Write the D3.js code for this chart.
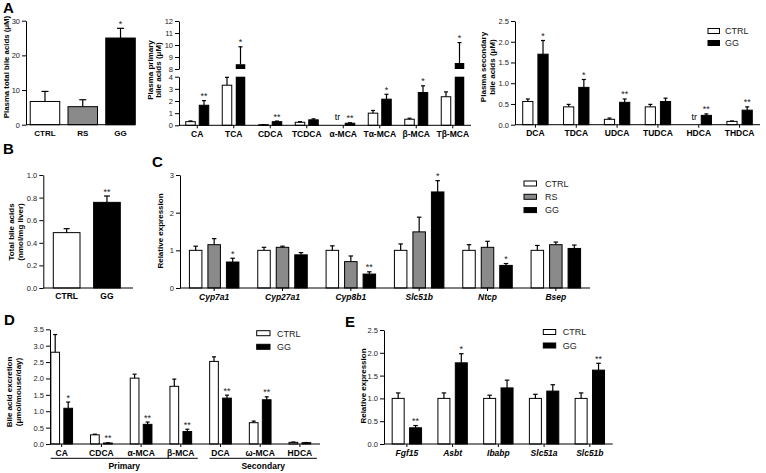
<!DOCTYPE html>
<html><head><meta charset="utf-8">
<script src="https://cdn.jsdelivr.net/npm/d3@7"></script>
<style>body{margin:0;background:#fff}svg{display:block}</style>
</head><body><svg id="c" width="766" height="473"></svg>
<script>
// ---------- DATA ----------
// Panel A (total)
const a1Groups = ["CTRL", "RS", "GG"];
const a1Values = [6.7, 5.2, 25.0];
const a1Errors = [2.9, 2.0, 2.8];
const a1Stars = ["", "", "*"];
const a1Ticks = [0, 10, 20, 30];
// Panel A (primary)
const a2Categories = ["CA", "TCA", "CDCA", "TCDCA", "α-MCA", "Tα-MCA", "β-MCA", "Tβ-MCA"];
const a2Ctrl = [0.3, 3.3, 0.05, 0.25, null, 1.0, 0.5, 2.35];
const a2CtrlErr = [0.06, 0.65, 0.01, 0.05, null, 0.22, 0.08, 0.4];
const a2GG = [1.65, 8.4, 0.3, 0.45, 0.17, 2.15, 2.7, 8.5];
const a2GGErr = [0.38, 1.45, 0.05, 0.08, 0.04, 0.4, 0.55, 1.7];
const a2Stars = ["**", "*", "**", "", "**", "*", "*", "*"];
const a2Trace = ["", "", "", "", "tr", "", "", ""];
const a2TicksLow = [0, 1, 2, 3, 4];
const a2TicksHigh = [8, 9, 10, 11, 12];
// Panel A (secondary)
const a3Categories = ["DCA", "TDCA", "UDCA", "TUDCA", "HDCA", "THDCA"];
const a3Ctrl = [0.56, 0.43, 0.13, 0.43, null, 0.08];
const a3CtrlErr = [0.06, 0.06, 0.03, 0.06, null, 0.01];
const a3GG = [1.70, 0.90, 0.54, 0.56, 0.225, 0.35];
const a3GGErr = [0.33, 0.19, 0.08, 0.08, 0.035, 0.08];
const a3Stars = ["*", "*", "**", "", "**", "**"];
const a3Trace = ["", "", "", "", "tr", ""];
const a3Ticks = [0, 0.5, 1.0, 1.5, 2.0, 2.5];
// Panel B
const bGroups = ["CTRL", "GG"];
const bValues = [0.49, 0.758];
const bErrors = [0.035, 0.056];
const bStars = ["", "**"];
const bTicks = [0, 0.2, 0.4, 0.6, 0.8, 1.0];
// Panel C
const cCategories = ["Cyp7a1", "Cyp27a1", "Cyp8b1", "Slc51b", "Ntcp", "Bsep"];
const cCtrl = [1, 1, 1, 1, 1, 1];
const cCtrlErr = [0.11, 0.08, 0.12, 0.17, 0.15, 0.13];
const cRS = [1.15, 1.08, 0.70, 1.49, 1.08, 1.15];
const cRSErr = [0.16, 0.03, 0.15, 0.39, 0.16, 0.07];
const cGG = [0.69, 0.88, 0.37, 2.55, 0.60, 1.05];
const cGGErr = [0.10, 0.06, 0.06, 0.30, 0.05, 0.09];
const cStars = ["*", "", "**", "*", "*", ""];
const cTicks = [0, 1, 2, 3];
// Panel D
const dCategories = ["CA", "CDCA", "α-MCA", "β-MCA", "DCA", "ω-MCA", "HDCA"];
const dCtrl = [2.80, 0.28, 2.01, 1.76, 2.52, 0.65, 0.05];
const dCtrlErr = [0.54, 0.02, 0.12, 0.22, 0.14, 0.05, 0.01];
const dGG = [1.09, 0.03, 0.60, 0.38, 1.40, 1.35, 0.04];
const dGGErr = [0.19, 0.005, 0.07, 0.07, 0.09, 0.09, 0.005];
const dStars = ["*", "**", "**", "**", "**", "**", ""];
const dGroupNames = ["Primary", "Secondary"];
const dGroupMembers = [["CA", "CDCA", "α-MCA", "β-MCA"], ["DCA", "ω-MCA", "HDCA"]];
const dTicks = [0, 0.5, 1.0, 1.5, 2.0, 2.5, 3.0, 3.5];
// Panel E
const eCategories = ["Fgf15", "Asbt", "Ibabp", "Slc51a", "Slc51b"];
const eCtrl = [1, 1, 1, 1, 1];
const eCtrlErr = [0.12, 0.12, 0.07, 0.09, 0.12];
const eGG = [0.355, 1.78, 1.23, 1.16, 1.62];
const eGGErr = [0.05, 0.20, 0.17, 0.14, 0.15];
const eStars = ["**", "*", "", "", "**"];
const eTicks = [0, 0.5, 1.0, 1.5, 2.0, 2.5];

// ---------- STYLE ----------
const FONT = "'Liberation Sans', Arial, Helvetica, sans-serif";
const FILL = { CTRL: "#ffffff", RS: "#8a8a8a", GG: "#000000" };
const svg = d3.select("#c");

function styleAxis(g, size) {
  g.selectAll("path,line").attr("stroke", "#000").attr("stroke-width", 1);
  g.selectAll("text").attr("font-family", FONT).attr("font-size", size || 7.5).attr("fill", "#222");
}
function yAxis(scale, x, ticks, fmt) {
  const g = svg.append("g").attr("transform", `translate(${x},0)`)
    .call(d3.axisLeft(scale).tickValues(ticks).tickFormat(fmt).tickSize(4).tickPadding(2).tickSizeOuter(0));
  styleAxis(g);
  return g;
}
function xAxis(band, y, x0, x1, opts) {
  const g = svg.append("g").attr("transform", `translate(0,${y})`)
    .call(d3.axisBottom(band).tickSize(opts.tick ? 3 : 0).tickPadding(opts.tick ? 2.5 : 5.3).tickSizeOuter(0));
  styleAxis(g);
  g.select(".domain").remove();
  g.append("line").attr("x1", x0).attr("x2", x1).attr("y1", 0).attr("y2", 0).attr("stroke", "#000").attr("stroke-width", 1);
  g.selectAll("text").attr("font-weight", "bold").attr("fill", "#000").attr("font-size", opts.size || 8.5)
    .attr("font-style", opts.italic ? "italic" : "normal");
  return g;
}
function yLabel(lines, xs, cy, size) {
  lines.forEach((t, i) => {
    svg.append("text").attr("transform", `translate(${xs[i]},${cy}) rotate(-90)`)
      .attr("text-anchor", "middle").attr("font-family", FONT).attr("font-weight", "bold")
      .attr("font-size", size || 8).attr("fill", "#000").text(t);
  });
}
function panelLetter(t, x, y) {
  svg.append("text").attr("x", x).attr("y", y).attr("font-family", FONT).attr("font-weight", "bold")
    .attr("font-size", 15).attr("fill", "#000").text(t);
}
function legend(items, x, y0, dy, bw, tx) {
  items.forEach((k, i) => {
    svg.append("rect").attr("x", x).attr("y", y0 + i * dy).attr("width", bw).attr("height", 5)
      .attr("fill", FILL[k]).attr("stroke", "#000").attr("stroke-width", 1);
    svg.append("text").attr("x", tx).attr("y", y0 + i * dy + 5.8).attr("font-family", FONT)
      .attr("font-size", 9).attr("fill", "#222").text(k);
  });
}
// draw bars + error bars + stars from flattened records
function drawBars(recs, y, bw, cap) {
  const g = svg.append("g");
  g.selectAll("rect").data(recs.filter(d => d.v != null)).join("rect")
    .attr("x", d => d.x - bw / 2).attr("width", bw)
    .attr("y", d => y(d.v)).attr("height", d => y(0) - y(d.v))
    .attr("fill", d => FILL[d.s]).attr("stroke", "#000").attr("stroke-width", 1);
  const eb = recs.filter(d => d.v != null && d.e);
  g.selectAll("line.v").data(eb).join("line").attr("class", "v")
    .attr("x1", d => d.x).attr("x2", d => d.x).attr("y1", d => y(d.v)).attr("y2", d => y(d.v + d.e))
    .attr("stroke", "#000").attr("stroke-width", 1.2);
  g.selectAll("line.c").data(eb).join("line").attr("class", "c")
    .attr("x1", d => d.x - cap / 2).attr("x2", d => d.x + cap / 2).attr("y1", d => y(d.v + d.e)).attr("y2", d => y(d.v + d.e))
    .attr("stroke", "#000").attr("stroke-width", 1.2);
  stars(recs.filter(d => d.star), y);
}
function stars(recs, y) {
  svg.append("g").selectAll("text").data(recs).join("text")
    .attr("x", d => d.x).attr("y", d => (d.yTop != null ? d.yTop : y((d.v || 0) + (d.e || 0))) - 1.5)
    .attr("text-anchor", "middle").attr("font-family", FONT).attr("font-size", 9).attr("fill", "#222")
    .text(d => d.star);
}
function traces(cats, tr, band, off, y) {
  svg.append("g").selectAll("text").data(cats.filter((c, i) => tr[i])).join("text")
    .attr("x", c => band(c) + band.bandwidth() / 2 + off).attr("y", y)
    .attr("text-anchor", "middle").attr("font-family", FONT).attr("font-size", 9).attr("fill", "#000").text("tr");
}

// ---------- PANEL A: total ----------
{
  const y = d3.scaleLinear().domain([0, 30]).range([124.7, 20.7]);
  const x = d3.scaleBand().domain(a1Groups).range([26.1, 139.4]);
  const recs = a1Groups.map((g, i) => ({ x: x(g) + x.bandwidth() / 2, v: a1Values[i], e: a1Errors[i], s: g, star: a1Stars[i] }));
  drawBars(recs, y, 29.5, 7);
  yAxis(y, 26, a1Ticks, d3.format("d"));
  xAxis(x, 124.7, 26, 135, { tick: false, size: 8 });
  yLabel(["Plasma total bile acids (μM)"], [8.5], 67, 7.8);
  panelLetter("A", 3, 13);
}

// ---------- PANEL A: primary (broken axis) ----------
{
  const yLow = d3.scaleLinear().domain([0, 4]).range([125.3, 76.7]);
  const yHigh = d3.scaleLinear().domain([8, 12]).range([69, 21]);
  const yv = v => (v <= 4 ? yLow(v) : yHigh(v));
  const x = d3.scaleBand().domain(a2Categories).range([179, 471]);
  const off = [-6.75, 6.75], bw = 9.5, cap = 4;
  const recs = [];
  a2Categories.forEach((c, i) => {
    const cx = x(c) + x.bandwidth() / 2;
    recs.push({ x: cx + off[0], v: a2Ctrl[i], e: a2CtrlErr[i], s: "CTRL" });
    recs.push({ x: cx + off[1], v: a2GG[i], e: a2GGErr[i], s: "GG", star: a2Stars[i] });
  });
  const g = svg.append("g");
  const valid = recs.filter(d => d.v != null);
  g.selectAll("rect.lo").data(valid).join("rect").attr("class", "lo")
    .attr("x", d => d.x - bw / 2).attr("width", bw)
    .attr("y", d => yLow(Math.min(d.v, 4))).attr("height", d => yLow(0) - yLow(Math.min(d.v, 4)))
    .attr("fill", d => FILL[d.s]).attr("stroke", d => d.v > 4 ? "none" : "#000").attr("stroke-width", 1);
  g.selectAll("rect.hi").data(valid.filter(d => d.v > 8)).join("rect").attr("class", "hi")
    .attr("x", d => d.x - bw / 2).attr("width", bw)
    .attr("y", d => yHigh(d.v)).attr("height", d => yHigh(8) - yHigh(d.v))
    .attr("fill", d => FILL[d.s]);
  const eb = valid.filter(d => d.e);
  g.selectAll("line.v").data(eb).join("line").attr("class", "v")
    .attr("x1", d => d.x).attr("x2", d => d.x).attr("y1", d => yv(d.v)).attr("y2", d => yv(d.v + d.e))
    .attr("stroke", "#000").attr("stroke-width", 1.2);
  g.selectAll("line.c").data(eb).join("line").attr("class", "c")
    .attr("x1", d => d.x - cap / 2).attr("x2", d => d.x + cap / 2).attr("y1", d => yv(d.v + d.e)).attr("y2", d => yv(d.v + d.e))
    .attr("stroke", "#000").attr("stroke-width", 1.2);
  stars(recs.filter(d => d.star).map(d => ({ ...d, yTop: yv(d.v + d.e) })), yv);
  traces(a2Categories, a2Trace, x, off[0] + 1, 119.5);
  yAxis(yLow, 179, a2TicksLow, d3.format("d"));
  yAxis(yHigh, 179, a2TicksHigh, d3.format("d"));
  xAxis(x, 125.3, 179, 471, { tick: true });
  yLabel(["Plasma primary", "bile acids (μM)"], [152.5, 161], 70, 8);
}

// ---------- PANEL A: secondary ----------
{
  const y = d3.scaleLinear().domain([0, 2.5]).range([124.7, 21]);
  const x = d3.scaleBand().domain(a3Categories).range([515, 760]);
  const off = [-7.6, 7.6];
  const recs = [];
  a3Categories.forEach((c, i) => {
    const cx = x(c) + x.bandwidth() / 2;
    recs.push({ x: cx + off[0], v: a3Ctrl[i], e: a3CtrlErr[i], s: "CTRL" });
    recs.push({ x: cx + off[1], v: a3GG[i], e: a3GGErr[i], s: "GG", star: a3Stars[i] });
  });
  drawBars(recs, y, 10.2, 4);
  traces(a3Categories, a3Trace, x, off[0] + 3, 119.5);
  yAxis(y, 515, a3Ticks, d3.format(".1f"));
  xAxis(x, 124.7, 515, 760, { tick: true });
  yLabel(["Plasma secondary", "bile acids (μM)"], [485.5, 494.5], 67, 8);
  legend(["CTRL", "GG"], 708, 28.5, 12, 11.5, 725);
}

// ---------- PANEL B ----------
{
  const y = d3.scaleLinear().domain([0, 1.0]).range([288, 175]);
  const x = d3.scaleBand().domain(bGroups).range([46.5, 127.1]);
  const recs = bGroups.map((g, i) => ({ x: x(g) + x.bandwidth() / 2, v: bValues[i], e: bErrors[i], s: g, star: bStars[i] }));
  drawBars(recs, y, 26.7, 6);
  yAxis(y, 43.3, bTicks, d3.format(".1f"));
  xAxis(x, 288, 43.3, 133, { tick: false, size: 8.5 });
  yLabel(["Total bile acids", "(nmol/mg liver)"], [13.5, 22.5], 232, 8);
  panelLetter("B", 3, 154);
}

// ---------- PANEL C ----------
{
  const y = d3.scaleLinear().domain([0, 3]).range([288, 175]);
  const x = d3.scaleBand().domain(cCategories).range([180, 590]);
  const off = [-18.5, 0, 18.5];
  const recs = [];
  cCategories.forEach((c, i) => {
    const cx = x(c) + x.bandwidth() / 2;
    recs.push({ x: cx + off[0], v: cCtrl[i], e: cCtrlErr[i], s: "CTRL" });
    recs.push({ x: cx + off[1], v: cRS[i], e: cRSErr[i], s: "RS" });
    recs.push({ x: cx + off[2], v: cGG[i], e: cGGErr[i], s: "GG", star: cStars[i] });
  });
  drawBars(recs, y, 12.5, 4.5);
  yAxis(y, 180, cTicks, d3.format("d"));
  xAxis(x, 288, 180, 590, { tick: true, italic: true, size: 8.5 });
  yLabel(["Relative expression"], [163], 231, 8);
  legend(["CTRL", "RS", "GG"], 524, 181, 13.3, 12.5, 545);
  panelLetter("C", 152, 167);
}

// ---------- PANEL D ----------
{
  const y = d3.scaleLinear().domain([0, 3.5]).range([444, 329.3]);
  const x = d3.scaleBand().domain(dCategories).range([41.85, 319.75]);
  const off = [-6.5, 6.5];
  const recs = [];
  dCategories.forEach((c, i) => {
    const cx = x(c) + x.bandwidth() / 2;
    recs.push({ x: cx + off[0], v: dCtrl[i], e: dCtrlErr[i], s: "CTRL" });
    recs.push({ x: cx + off[1], v: dGG[i], e: dGGErr[i], s: "GG", star: dStars[i] });
  });
  drawBars(recs, y, 8.7, 4);
  yAxis(y, 50, dTicks, d3.format(".1f"));
  xAxis(x, 444, 50, 320, { tick: true, size: 8.5 });
  const cxf = c => x(c) + x.bandwidth() / 2;
  dGroupNames.forEach((name, gi) => {
    const m = dGroupMembers[gi];
    const a = cxf(m[0]) - 11, b = cxf(m[m.length - 1]) + 17;
    svg.append("line").attr("x1", a).attr("x2", b).attr("y1", 458.3).attr("y2", 458.3).attr("stroke", "#000").attr("stroke-width", 1);
    svg.append("text").attr("x", (a + b) / 2).attr("y", 469).attr("text-anchor", "middle")
      .attr("font-family", FONT).attr("font-weight", "bold").attr("font-size", 8.5).attr("fill", "#000").text(name);
  });
  yLabel(["Bile acid excretion", "(μmol/mouse/day)"], [11.5, 21], 392, 8);
  legend(["CTRL", "GG"], 256.7, 330.7, 13.6, 13.3, 277);
  panelLetter("D", 4, 325);
}

// ---------- PANEL E ----------
{
  const y = d3.scaleLinear().domain([0, 2.5]).range([444, 330]);
  const x = d3.scaleBand().domain(eCategories).range([384, 612.7]);
  const off = [-8.7, 8.7];
  const recs = [];
  eCategories.forEach((c, i) => {
    const cx = x(c) + x.bandwidth() / 2;
    recs.push({ x: cx + off[0], v: eCtrl[i], e: eCtrlErr[i], s: "CTRL" });
    recs.push({ x: cx + off[1], v: eGG[i], e: eGGErr[i], s: "GG", star: eStars[i] });
  });
  drawBars(recs, y, 12, 4.5);
  yAxis(y, 384, eTicks, d3.format(".1f"));
  xAxis(x, 444, 384, 612.7, { tick: true, italic: true, size: 8.5 });
  yLabel(["Relative expression"], [365.5], 386, 8);
  legend(["CTRL", "GG"], 543.3, 329.5, 13.5, 12.4, 562.7);
  panelLetter("E", 345, 327);
}
</script></body></html>
